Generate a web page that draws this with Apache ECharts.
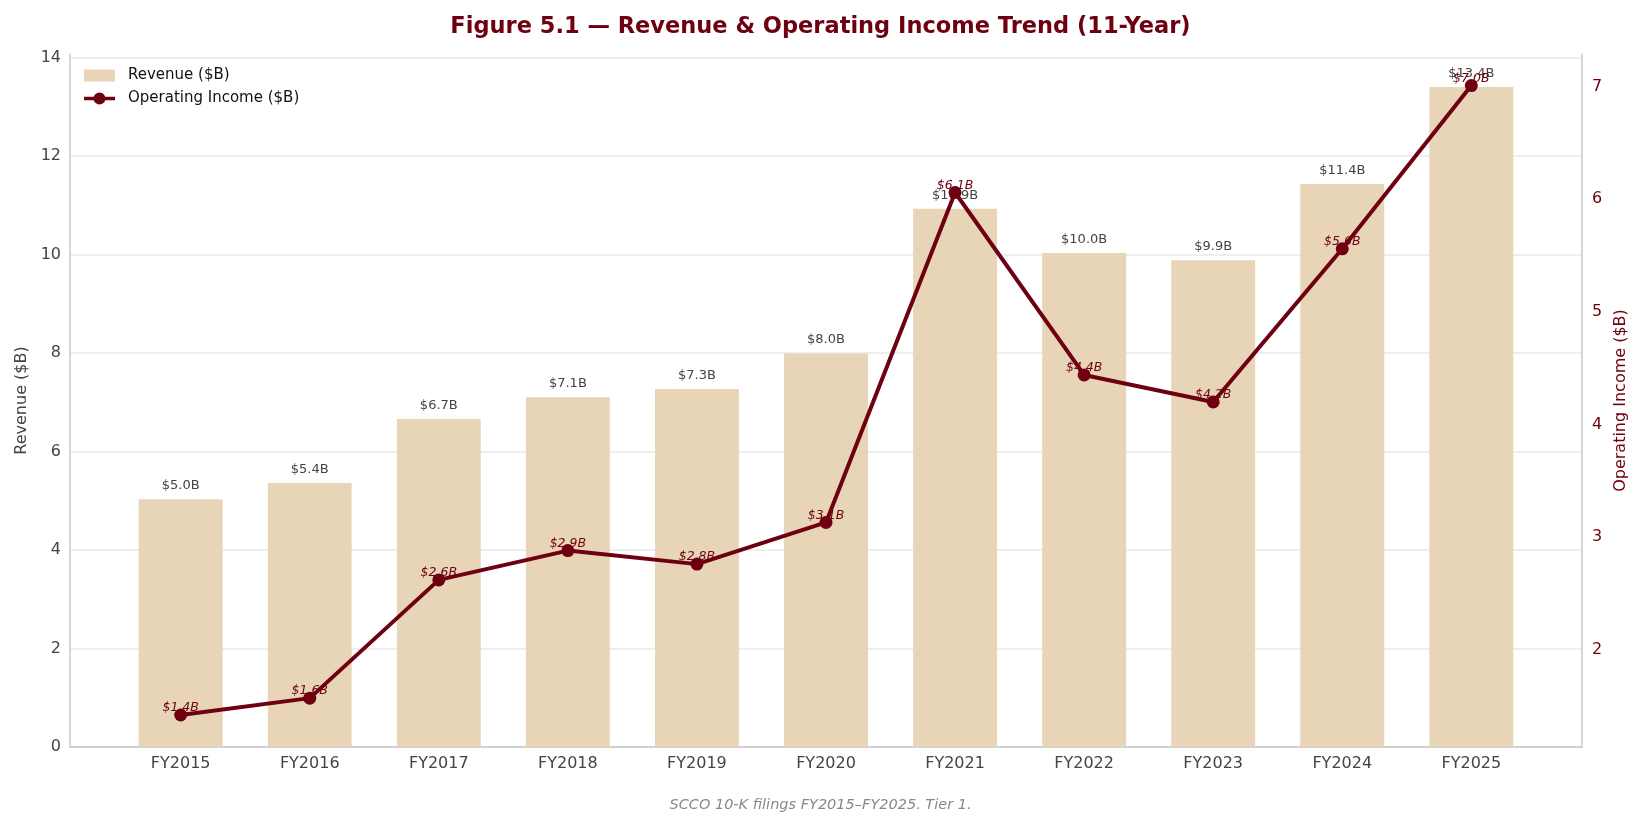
<!DOCTYPE html>
<html>
<head>
<meta charset="utf-8">
<title>Revenue & Operating Income Trend</title>
<script src="https://cdn.jsdelivr.net/npm/echarts@6/dist/echarts.min.js"></script>
<style>
  html, body { margin: 0; padding: 0; background: #fff; }
  #chart { width: 1641px; height: 827px; }
</style>
</head>
<body>
<div id="chart"></div>
<script>
// values
var years = ['FY2015', 'FY2016', 'FY2017', 'FY2018', 'FY2019', 'FY2020',
             'FY2021', 'FY2022', 'FY2023', 'FY2024', 'FY2025'];
var revenue = [5.03, 5.36, 6.66, 7.10, 7.27, 7.99, 10.93, 10.03, 9.88, 11.43, 13.40];
var opIncome = [1.42, 1.57, 2.62, 2.88, 2.76, 3.13, 6.06, 4.44, 4.20, 5.56, 7.01];
var revTicks = [0, 2, 4, 6, 8, 10, 12, 14];
var oiTicks = [2, 3, 4, 5, 6, 7];
var yearTicks = years.map(function (y, i) { return i; });

var MAROON = '#6e0011';
var TAN = '#e8d5b7';
var FONT = 'DejaVu Sans';
// legend icon: thick line with a dot in the middle
var LINE_ICON = 'path://M0,4.2 L31,4.2 L31,7.8 L0,7.8 Z M15.5,0 A6,6 0 0,1 15.5,12 A6,6 0 0,1 15.5,0 Z';

var chart = echarts.init(document.getElementById('chart'), null, { renderer: 'canvas' });

function money(p) {
    return '$' + p.value[1].toFixed(1) + 'B';
}

var option = {
    animation: false,
    textStyle: { fontFamily: FONT },
    title: [{
        text: 'Figure 5.1 \u2014 Revenue & Operating Income Trend (11-Year)',
        left: 'center',
        top: 11,
        textStyle: { fontFamily: FONT, fontSize: 22.5, fontWeight: 'bold', color: MAROON }
    }, {
        text: 'SCCO 10-K filings FY2015\u2013FY2025. Tier 1.',
        left: 'center',
        top: 793,
        textStyle: { fontFamily: FONT, fontSize: 14.5, fontWeight: 'normal', fontStyle: 'italic', color: '#888' }
    }],
    legend: {
        orient: 'vertical',
        left: 79,
        top: 63,
        itemWidth: 31,
        itemHeight: 12,
        itemGap: 8,
        textStyle: { fontFamily: FONT, fontSize: 15, color: '#111', padding: [0, 0, 0, 8] },
        data: [
            { name: 'Revenue ($B)', icon: 'rect', itemStyle: { color: TAN } },
            { name: 'Operating Income ($B)', icon: LINE_ICON, itemStyle: { color: MAROON } }
        ]
    },
    grid: { left: 70, right: 59, top: 54, bottom: 80 },
    xAxis: {
        type: 'value',
        min: -0.8575,
        max: 10.8575,
        splitLine: { show: false },
        axisTick: { show: false },
        axisLine: { show: true, onZero: false, lineStyle: { color: '#c8c8c8', width: 1.5 } },
        axisLabel: {
            customValues: yearTicks,
            margin: 9,
            fontSize: 16,
            color: '#444',
            formatter: function (v) { return years[Math.round(v)]; }
        }
    },
    yAxis: [{
        type: 'value',
        min: 0,
        max: 14.07,
        interval: 2,
        name: 'Revenue ($B)',
        nameLocation: 'middle',
        nameGap: 38,
        nameTextStyle: { fontFamily: FONT, fontSize: 16, color: '#444' },
        axisLine: { show: true, onZero: false, lineStyle: { color: '#c8c8c8', width: 1.5 } },
        axisTick: { show: false },
        axisLabel: { customValues: revTicks, fontSize: 16, color: '#444', margin: 9 },
        splitLine: { show: true, showMaxLine: false, lineStyle: { color: '#e8e8e8', width: 1.5 } }
    }, {
        type: 'value',
        min: 1.136,
        max: 7.29,
        position: 'right',
        name: 'Operating Income ($B)',
        nameLocation: 'middle',
        nameGap: 21,
        nameTextStyle: { fontFamily: FONT, fontSize: 16, color: MAROON },
        axisLine: { show: true, onZero: false, lineStyle: { color: '#c8c8c8', width: 1.5 } },
        axisTick: { show: false },
        axisLabel: { customValues: oiTicks, fontSize: 16, color: MAROON, margin: 10 },
        splitLine: { show: false }
    }],
    series: [{
        name: 'Revenue ($B)',
        type: 'bar',
        yAxisIndex: 0,
        barWidth: '65%',
        itemStyle: { color: TAN },
        label: {
            show: true,
            position: 'top',
            distance: 7,
            fontSize: 13,
            color: '#444',
            formatter: money
        },
        data: revenue.map(function (v, i) { return [i, v]; }),
        z: 2
    }, {
        name: 'Operating Income ($B)',
        type: 'line',
        yAxisIndex: 1,
        symbol: 'circle',
        symbolSize: 13,
        lineStyle: { color: MAROON, width: 4 },
        itemStyle: { color: MAROON },
        label: {
            show: true,
            position: 'top',
            distance: -6,
            fontSize: 12.5,
            fontStyle: 'italic',
            color: MAROON,
            formatter: money
        },
        data: opIncome.map(function (v, i) { return [i, v]; }),
        z: 3
    }]
};

chart.setOption(option);
</script>
</body>
</html>
